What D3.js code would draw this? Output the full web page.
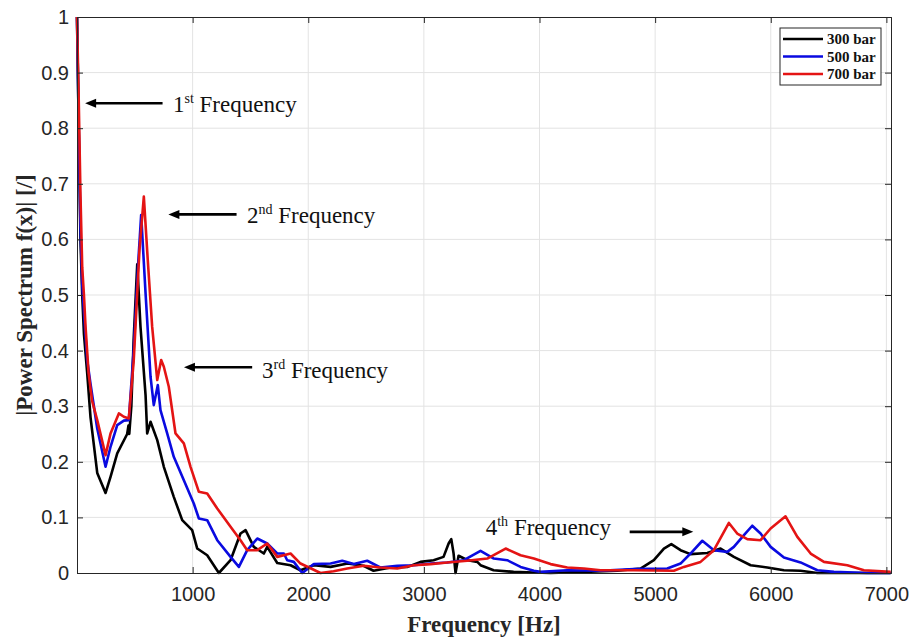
<!DOCTYPE html>
<html>
<head>
<meta charset="utf-8">
<script src="https://cdn.jsdelivr.net/npm/d3@7"></script>
<style>
  body { margin: 0; background: #fff; }
  svg { display: block; }
</style>
</head>
<body>
<svg id="chart" width="912" height="637"></svg>
<script>
// frequency [Hz], normalised power spectrum
var bar300 = [[0,1],[15,0.8],[30,0.6],[45,0.5],[60,0.43],[88,0.36],[117,0.28],[175,0.18],[247,0.144],[290,0.173],[348,0.215],[434,0.25],[445,0.265],[452,0.25],[470,0.3],[490,0.42],[521,0.555],[549,0.443],[593,0.32],[607,0.251],[636,0.272],[694,0.239],[751,0.191],[837,0.137],[910,0.095],[996,0.077],[1040,0.044],[1126,0.032],[1227,0],[1328,0.023],[1414,0.071],[1458,0.077],[1529,0.047],[1616,0.035],[1645,0.047],[1732,0.018],[1847,0.014],[1933,0.005],[2048,0.014],[2193,0.011],[2340,0.017],[2478,0.013],[2565,0.004],[2712,0.01],[2859,0.011],[2971,0.02],[3084,0.023],[3170,0.029],[3214,0.053],[3237,0.061],[3257,0.035],[3274,0],[3300,0.031],[3378,0.023],[3462,0.02],[3490,0.014],[3603,0.005],[3776,0.002],[3949,0.001],[4096,0],[4384,0.002],[4673,0.004],[4874,0.008],[4989,0.023],[5076,0.044],[5140,0.052],[5220,0.041],[5306,0.034],[5451,0.036],[5566,0.044],[5681,0.029],[5826,0.014],[5970,0.01],[6114,0.005],[6258,0.004],[6403,0],[6835,0],[7037,0]];

var bar500 = [[0,1],[15,0.8],[30,0.62],[45,0.52],[60,0.47],[88,0.383],[117,0.34],[175,0.26],[247,0.191],[290,0.227],[348,0.266],[405,0.274],[448,0.275],[490,0.4],[530,0.56],[555,0.644],[593,0.503],[636,0.353],[664,0.302],[699,0.338],[722,0.293],[780,0.251],[837,0.209],[924,0.167],[1010,0.125],[1054,0.098],[1126,0.095],[1213,0.059],[1328,0.029],[1400,0.011],[1472,0.041],[1559,0.062],[1645,0.053],[1732,0.035],[1789,0.035],[1818,0.023],[1875,0.02],[1948,0],[2048,0.016],[2193,0.017],[2294,0.022],[2394,0.016],[2510,0.022],[2623,0.01],[2770,0.013],[2913,0.014],[3058,0.017],[3202,0.019],[3346,0.023],[3490,0.04],[3605,0.026],[3721,0.023],[3836,0.011],[3951,0.004],[4009,0.002],[4240,0.005],[4528,0.004],[4816,0.007],[5105,0.008],[5220,0.017],[5306,0.035],[5408,0.058],[5508,0.041],[5624,0.038],[5681,0.047],[5768,0.068],[5840,0.085],[5912,0.071],[5999,0.047],[6114,0.028],[6258,0.019],[6403,0.005],[6546,0.002],[6835,0],[7037,0]];

var bar700 = [[0,1],[15,0.85],[30,0.68],[45,0.55],[60,0.5],[74,0.443],[100,0.36],[130,0.31],[175,0.275],[247,0.212],[290,0.251],[362,0.287],[405,0.281],[448,0.278],[490,0.38],[540,0.58],[578,0.677],[612,0.563],[650,0.443],[694,0.347],[728,0.383],[751,0.371],[794,0.335],[852,0.251],[924,0.233],[982,0.191],[1054,0.146],[1126,0.143],[1213,0.116],[1328,0.083],[1414,0.059],[1472,0.041],[1559,0.041],[1645,0.053],[1732,0.029],[1847,0.035],[1933,0.017],[2106,0],[2219,0.003],[2337,0.008],[2481,0.013],[2623,0.01],[2770,0.008],[2913,0.014],[3058,0.016],[3202,0.019],[3375,0.022],[3548,0.026],[3707,0.044],[3836,0.032],[3951,0.026],[4096,0.016],[4240,0.01],[4384,0.008],[4528,0.005],[4816,0.005],[5162,0.004],[5249,0.011],[5393,0.02],[5508,0.041],[5638,0.09],[5710,0.071],[5797,0.061],[5912,0.059],[5999,0.08],[6128,0.102],[6230,0.065],[6345,0.035],[6460,0.02],[6662,0.014],[6806,0.005],[7037,0.002]];

var seriesNames = ["300 bar", "500 bar", "700 bar"];
var seriesColors = ["#000000", "#0a0ae0", "#e41414"];
var xTicks = [1000, 2000, 3000, 4000, 5000, 6000, 7000];
var yTicks = [0, 0.1, 0.2, 0.3, 0.4, 0.5, 0.6, 0.7, 0.8, 0.9, 1];

// annotations: label number, superscript, arrow start/end [Hz, value]
var notes = [
  {n: "1", sup: "st", from: [740, 0.845], to: [70, 0.845], text: [830, 0.83]},
  {n: "2", sup: "nd", from: [1380, 0.645], to: [790, 0.645], text: [1470, 0.63]},
  {n: "3", sup: "rd", from: [1515, 0.37], to: [925, 0.37], text: [1600, 0.35]},
  {n: "4", sup: "th", from: [4780, 0.074], to: [5330, 0.074], text: [3535, 0.068]}
];

var svg = d3.select("#chart");
var mLeft = 77, mRight = 891, mTop = 17, mBottom = 573;

var x = d3.scaleLinear().domain([0, 7040]).range([mLeft, mRight]);
var y = d3.scaleLinear().domain([0, 1]).range([mBottom, mTop]);

// grid
svg.append("g").selectAll("line").data(xTicks).join("line")
  .attr("x1", d => x(d)).attr("x2", d => x(d))
  .attr("y1", mTop).attr("y2", mBottom)
  .attr("stroke", "#e3e3e3").attr("stroke-width", 1);
svg.append("g").selectAll("line").data(yTicks.slice(1, -1)).join("line")
  .attr("x1", mLeft).attr("x2", mRight)
  .attr("y1", d => y(d)).attr("y2", d => y(d))
  .attr("stroke", "#e3e3e3").attr("stroke-width", 1);

// curves
var line = d3.line().x(d => x(d[0])).y(d => y(d[1]));
var plot = svg.append("g");
[bar300, bar500, bar700].forEach(function(s, i) {
  plot.append("path").datum(s)
    .attr("d", line)
    .attr("fill", "none")
    .attr("stroke", seriesColors[i])
    .attr("stroke-width", 2.6)
    .attr("stroke-linejoin", "round");
});

// axes, MATLAB style box with inward ticks
var axisColor = "#262626";
svg.append("g").attr("transform", "translate(0," + mBottom + ")")
  .call(d3.axisBottom(x).tickValues(xTicks).tickSize(-6).tickPadding(14).tickFormat(d3.format("d")));
svg.append("g").attr("transform", "translate(" + mLeft + ",0)")
  .call(d3.axisLeft(y).tickValues(yTicks).tickSize(-6).tickPadding(8)
    .tickFormat(d => d === 0 || d === 1 ? d3.format("d")(d) : d3.format(".1f")(d)));
svg.append("g").attr("transform", "translate(0," + mTop + ")")
  .call(d3.axisTop(x).tickValues(xTicks).tickSize(-6).tickFormat(""));
svg.append("g").attr("transform", "translate(" + mRight + ",0)")
  .call(d3.axisRight(y).tickValues(yTicks).tickSize(-6).tickFormat(""));
svg.selectAll(".domain").attr("stroke", axisColor);
svg.selectAll(".tick line").attr("stroke", axisColor);
svg.selectAll(".tick text")
  .attr("fill", axisColor)
  .attr("font-family", "Liberation Sans, Arial, sans-serif")
  .attr("font-size", 20);

// axis titles
svg.append("text")
  .attr("x", (mLeft + mRight) / 2).attr("y", 632)
  .attr("text-anchor", "middle")
  .attr("font-family", "Liberation Serif, Times New Roman, serif")
  .attr("font-weight", "bold").attr("font-size", 23)
  .attr("fill", axisColor)
  .text("Frequency [Hz]");
svg.append("text")
  .attr("transform", "translate(32," + (mTop + mBottom) / 2 + ") rotate(-90)")
  .attr("text-anchor", "middle")
  .attr("font-family", "Liberation Serif, Times New Roman, serif")
  .attr("font-weight", "bold").attr("font-size", 23)
  .attr("fill", axisColor)
  .text("|Power Spectrum f(x)| [/]");

// annotations
var ann = svg.append("g");
notes.forEach(function(a) {
  var x1 = x(a.from[0]), x2 = x(a.to[0]), yy = y(a.from[1]);
  var dir = x2 < x1 ? 1 : -1;
  ann.append("line")
    .attr("x1", x1).attr("x2", x2 + dir * 8)
    .attr("y1", yy).attr("y2", yy)
    .attr("stroke", "#000").attr("stroke-width", 2.6);
  ann.append("path")
    .attr("d", "M" + x2 + "," + yy + "L" + (x2 + dir * 11) + "," + (yy - 4.5) +
      "L" + (x2 + dir * 11) + "," + (yy + 4.5) + "Z")
    .attr("fill", "#000");
  var t = ann.append("text")
    .attr("x", x(a.text[0])).attr("y", y(a.text[1]))
    .attr("font-family", "Liberation Serif, Times New Roman, serif")
    .attr("font-size", 23).attr("fill", "#111");
  t.append("tspan").text(a.n);
  t.append("tspan").attr("dy", -9).attr("font-size", 14).text(a.sup);
  t.append("tspan").attr("dy", 9).text(" Frequency");
});

// legend
var lg = svg.append("g").attr("transform", "translate(780,28)");
lg.append("rect").attr("width", 101).attr("height", 57)
  .attr("fill", "#fff").attr("stroke", axisColor).attr("stroke-width", 1);
seriesNames.forEach(function(name, i) {
  var yy = 11 + i * 17.5;
  lg.append("line").attr("x1", 3).attr("x2", 43)
    .attr("y1", yy).attr("y2", yy)
    .attr("stroke", seriesColors[i]).attr("stroke-width", 2.6);
  lg.append("text").attr("x", 47).attr("y", yy + 5)
    .attr("font-family", "Liberation Serif, Times New Roman, serif")
    .attr("font-weight", "bold").attr("font-size", 15)
    .attr("fill", "#111").text(name);
});
</script>
</body>
</html>
